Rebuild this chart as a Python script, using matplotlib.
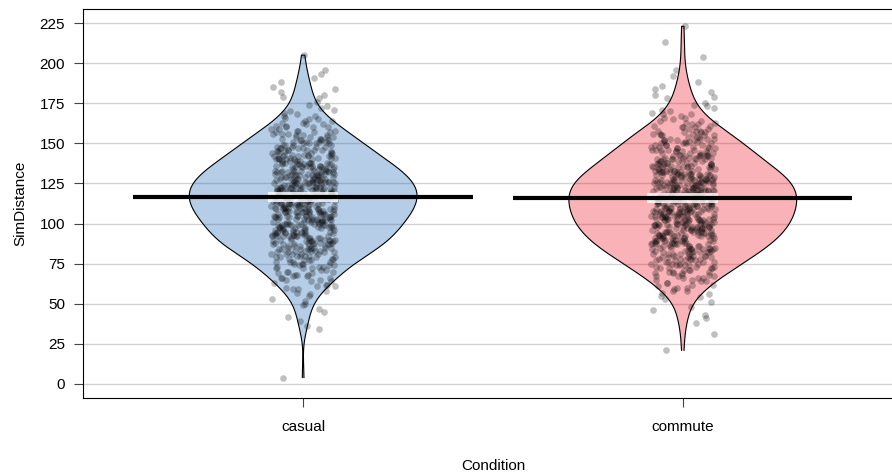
import numpy as np
import matplotlib
matplotlib.use('Agg')
import matplotlib.pyplot as plt

plt.rcParams['font.family'] = ['Liberation Sans', 'DejaVu Sans']

# values
groups = ['casual', 'commute']
bean_colors = ['#0C5BB0', '#EE0011']

# SimDistance frequency tables: count of observations at 0, 1, 2, ... 225
distance_bins = np.arange(0, 226)
casual_counts = [
    0, 0, 0, 0, 1, 0, 0, 0, 0, 0,
    0, 0, 0, 0, 0, 0, 0, 0, 0, 0,
    0, 0, 0, 0, 0, 0, 0, 0, 0, 0,
    0, 0, 0, 0, 1, 0, 1, 0, 0, 1,
    0, 0, 1, 0, 0, 1, 0, 1, 0, 1,
    1, 0, 1, 1, 0, 1, 1, 1, 1, 2,
    1, 2, 2, 1, 2, 2, 3, 2, 3, 2,
    3, 2, 3, 3, 3, 3, 4, 3, 3, 4,
    4, 5, 4, 5, 5, 5, 5, 6, 5, 6,
    6, 5, 7, 6, 6, 6, 6, 6, 6, 7,
    6, 7, 7, 6, 7, 7, 7, 8, 7, 7,
    7, 8, 7, 8, 7, 8, 7, 8, 7, 8,
    8, 7, 8, 8, 7, 7, 8, 7, 7, 7,
    7, 7, 6, 7, 6, 6, 6, 6, 6, 5,
    6, 5, 5, 5, 5, 4, 5, 4, 4, 4,
    4, 4, 4, 3, 4, 3, 3, 3, 3, 2,
    3, 2, 2, 2, 2, 2, 1, 2, 1, 1,
    1, 1, 1, 1, 1, 0, 1, 0, 1, 1,
    1, 0, 1, 0, 1, 1, 0, 0, 1, 0,
    0, 1, 0, 1, 0, 0, 1, 0, 0, 0,
    0, 0, 0, 0, 0, 1, 0, 0, 0, 0,
    0, 0, 0, 0, 0, 0, 0, 0, 0, 0,
    0, 0, 0, 0, 0, 0,
]
commute_counts = [
    0, 0, 0, 0, 0, 0, 0, 0, 0, 0,
    0, 0, 0, 0, 0, 0, 0, 0, 0, 0,
    0, 1, 0, 0, 0, 0, 0, 0, 0, 0,
    0, 1, 0, 0, 0, 0, 0, 0, 1, 0,
    0, 1, 0, 1, 0, 0, 1, 0, 1, 0,
    0, 1, 0, 1, 1, 1, 1, 1, 2, 1,
    2, 1, 2, 2, 2, 2, 3, 3, 2, 3,
    3, 3, 4, 3, 4, 4, 4, 4, 5, 4,
    5, 5, 5, 5, 6, 5, 6, 6, 6, 6,
    6, 7, 6, 7, 6, 7, 7, 7, 7, 7,
    7, 7, 8, 7, 7, 7, 8, 7, 8, 7,
    8, 7, 8, 7, 8, 7, 8, 8, 7, 8,
    8, 7, 8, 7, 8, 7, 7, 8, 7, 7,
    7, 6, 7, 6, 6, 6, 6, 6, 5, 5,
    6, 5, 5, 5, 5, 4, 5, 4, 4, 4,
    4, 4, 4, 4, 3, 4, 3, 3, 3, 2,
    3, 2, 2, 2, 2, 1, 2, 1, 2, 1,
    1, 1, 1, 1, 1, 1, 0, 0, 1, 1,
    1, 0, 1, 0, 1, 0, 1, 0, 1, 0,
    0, 0, 1, 0, 0, 0, 1, 0, 0, 0,
    0, 0, 0, 0, 1, 0, 0, 0, 0, 0,
    0, 0, 0, 1, 0, 0, 0, 0, 0, 0,
    0, 0, 0, 1, 0, 0,
]

means = [116.6, 115.9]
inf_low = [113.5, 112.9]
inf_high = [119.7, 119.1]
yticks = [0, 25, 50, 75, 100, 125, 150, 175, 200, 225]

fig = plt.figure(figsize=(8.92, 4.73), dpi=100)
ax = fig.add_axes([0.093, 0.1577, 0.9193, 0.8241])

for i, counts in enumerate([casual_counts, commute_counts]):
    x0 = i + 1
    v = np.repeat(distance_bins, counts).astype(float)
    n = len(v)
    # bandwidth like R's bw.nrd0
    iqr = np.subtract(*np.percentile(v, [75, 25]))
    bw = 0.9 * min(v.std(ddof=1), iqr / 1.34) * n ** -0.2
    grid = np.linspace(v.min(), v.max(), 400)
    dens = np.exp(-0.5 * ((grid[:, None] - v[None, :]) / bw) ** 2).sum(axis=1)
    half = dens / dens.max() * 0.3
    px = np.concatenate([x0 - half, (x0 + half)[::-1]])
    py = np.concatenate([grid, grid[::-1]])
    ax.fill(px, py, facecolor=bean_colors[i], alpha=0.3, zorder=2)
    ax.plot(px, py, color='black', lw=0.8, zorder=3)

    # jitter, deterministic hash so it looks scattered
    k = np.arange(n) + 17 * i
    jit = (np.sin(k * 12.9898 + 78.233) * 43758.5453) % 1.0
    ax.scatter(x0 + (jit - 0.5) * 0.17, v, s=23, color='black', alpha=0.25,
               linewidths=0, zorder=4)

    ax.fill_between([x0 - 0.093, x0 + 0.093], inf_low[i], inf_high[i],
                    color='white', alpha=0.8, lw=0, zorder=5)
    ax.plot([x0 - 0.447, x0 + 0.447], [means[i], means[i]], color='black',
            lw=3, solid_capstyle='butt', zorder=6)

ax.set_xlim(0.42, 2.58)
ax.set_ylim(-9, 234)
ax.set_yticks(yticks)
ax.set_xticks([1, 2])
ax.set_xticklabels(groups)
ax.yaxis.grid(True, color='#d3d3d3', lw=1)
ax.set_axisbelow(True)
ax.tick_params(axis='both', length=6.5, width=0.8, color='#444444',
               labelsize=11, pad=6.5)
ax.tick_params(axis='x', pad=9)
for s in ax.spines.values():
    s.set_linewidth(0.8)
ax.spines['right'].set_visible(False)
ax.set_ylabel('SimDistance', fontsize=11, labelpad=9)
ax.set_xlabel('Condition', fontsize=11, labelpad=18)

fig.savefig('out.png', dpi=100)
